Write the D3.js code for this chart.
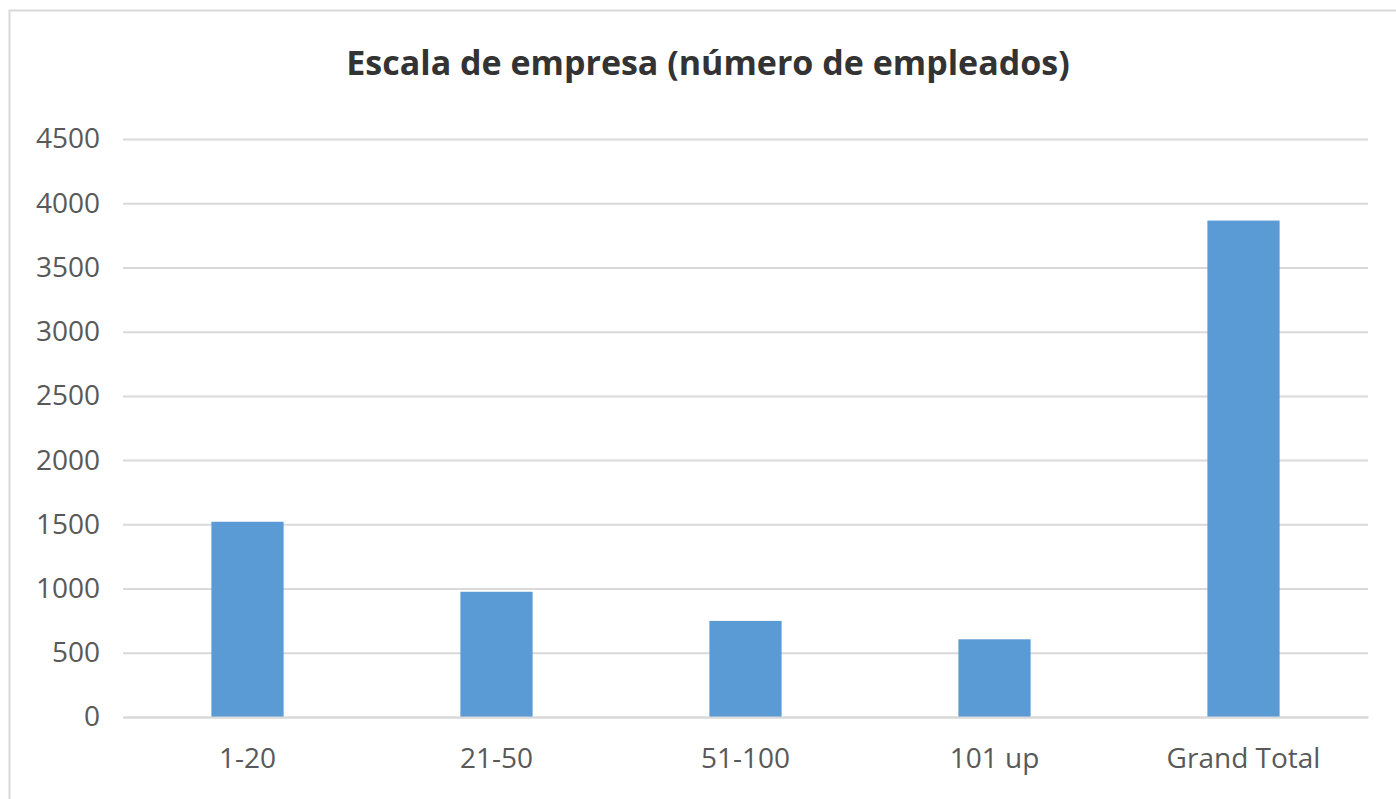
<!DOCTYPE html>
<html><head><meta charset="utf-8">
<script src="https://cdn.jsdelivr.net/npm/d3@7"></script>
<style>
html,body{margin:0;padding:0;background:#fff;}
svg{display:block;}
</style></head>
<body>
<svg id="chart" width="1396" height="799"></svg>
<script>
const title = "Escala de empresa (número de empleados)";
const categories = ["1-20", "21-50", "51-100", "101 up", "Grand Total"];
const values = [1520, 975, 748, 605, 3865];
const yTicks = [0, 500, 1000, 1500, 2000, 2500, 3000, 3500, 4000, 4500];

const svg = d3.select("#chart");
const W = 1396, H = 799;
const margin = {left: 123, right: 28, top: 139, bottom: 82};
const font = "'Open Sans', 'Liberation Sans', sans-serif";

// outer chart border
svg.append("rect").attr("x", 9.5).attr("y", 10.5).attr("width", W + 20).attr("height", H + 20)
  .attr("fill", "#fff").attr("stroke", "#d9d9d9").attr("stroke-width", 2);

const x = d3.scaleBand().domain(categories)
  .range([margin.left, W - margin.right]).paddingInner(0.71).paddingOuter(0.355);
const y = d3.scaleLinear().domain([0, 4500]).range([H - margin.bottom, margin.top]);

// gridlines
const yAxis = d3.axisLeft(y).tickValues(yTicks).tickSize(-(W - margin.right - margin.left)).tickPadding(23).tickFormat(d3.format("d"));
const gy = svg.append("g").attr("transform", `translate(${margin.left},0)`).call(yAxis);
gy.select(".domain").remove();
gy.selectAll(".tick line").attr("stroke", "#d9d9d9").attr("stroke-width", 2);
gy.selectAll(".tick text").attr("fill", "#595959").style("font-family", font).style("font-size", "28px");

// bars
svg.append("g").selectAll("rect").data(values).join("rect")
  .attr("x", (d, i) => x(categories[i]))
  .attr("y", d => y(d))
  .attr("width", x.bandwidth())
  .attr("height", d => y(0) - y(d))
  .attr("fill", "#5b9bd5");

// x axis
const xAxis = d3.axisBottom(x).tickSize(0).tickPadding(31);
const gx = svg.append("g").attr("transform", `translate(0,${y(0)})`).call(xAxis);
gx.select(".domain").attr("stroke", "#d9d9d9").attr("stroke-width", 2);
gx.selectAll(".tick text").attr("fill", "#595959").style("font-family", font).style("font-size", "28px");

// title
svg.append("text").attr("x", 708).attr("y", 75).attr("text-anchor", "middle")
  .attr("fill", "#333333").style("font-family", font).style("font-weight", "bold").style("font-size", "34px")
  .text(title);
</script>
</body></html>
